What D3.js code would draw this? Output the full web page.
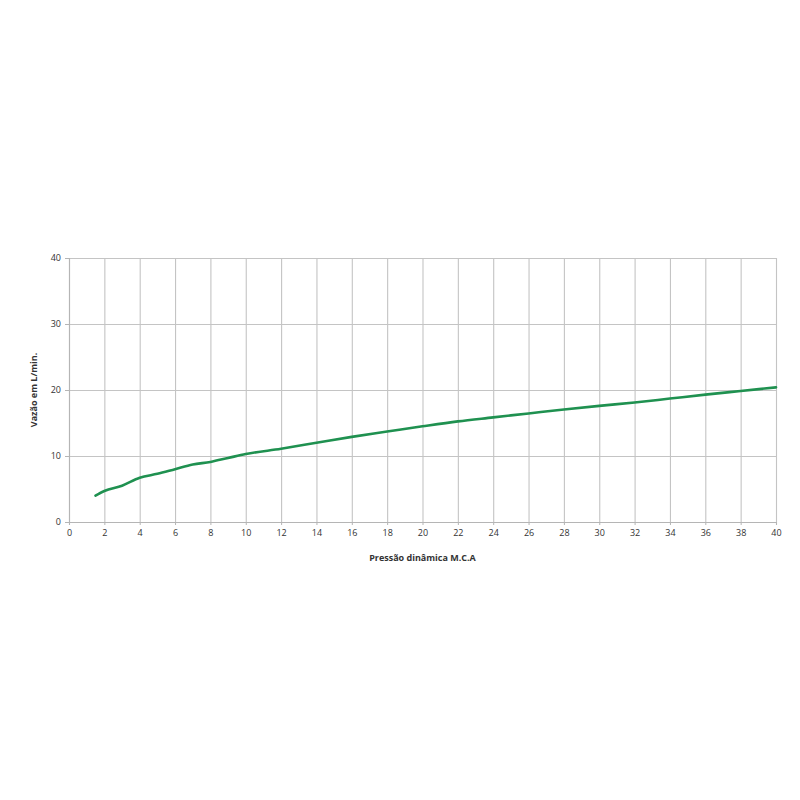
<!DOCTYPE html>
<html>
<head>
<meta charset="utf-8">
<script src="https://cdn.jsdelivr.net/npm/d3@7"></script>
<style>
  body { margin: 0; background: #fff; }
  svg text { font-family: "Open Sans", "DejaVu Sans", sans-serif; fill: #333; }
</style>
</head>
<body>
<div id="chart"></div>
<script>
// Pressure (M.C.A) and flow (L/min)
const pressao = [1.5, 2, 3, 4, 5, 6, 7, 8, 9, 10, 12, 14, 16, 18, 20, 22, 24, 26, 28, 30, 32, 34, 36, 38, 40];
const vazao = [4.0, 4.7, 5.5, 6.7, 7.3, 8.0, 8.7, 9.1, 9.7, 10.3, 11.1, 12.0, 12.9, 13.7, 14.5, 15.25, 15.85, 16.45, 17.05, 17.6, 18.1, 18.7, 19.3, 19.85, 20.4];
const xTicks = d3.range(0, 41, 2);
const yTicks = [0, 10, 20, 30, 40];

const width = 800, height = 800;
const margin = { top: 258, right: 24, bottom: 278, left: 69 };
const innerW = width - margin.left - margin.right;
const innerH = height - margin.top - margin.bottom;

const svg = d3.select('#chart')
  .append('svg')
  .attr('width', width)
  .attr('height', height);

const g = svg.append('g')
  .attr('transform', `translate(${margin.left}, ${margin.top})`);

const x = d3.scaleLinear().domain([0, 40]).range([0, innerW]);
const y = d3.scaleLinear().domain([0, 40]).range([innerH, 0]);

// grid lines
g.append('g')
  .attr('class', 'grid grid-x')
  .attr('transform', `translate(0, ${innerH})`)
  .call(d3.axisBottom(x).tickValues(xTicks).tickSize(-innerH).tickFormat(''))
  .call(a => a.select('.domain').remove())
  .selectAll('line')
  .attr('stroke', '#c4c4c4')
  .attr('stroke-width', 1.1);

g.append('g')
  .attr('class', 'grid grid-y')
  .call(d3.axisLeft(y).tickValues(yTicks).tickSize(-innerW).tickFormat(''))
  .call(a => a.select('.domain').remove())
  .selectAll('line')
  .attr('stroke', '#c4c4c4')
  .attr('stroke-width', 1.1);

// axes
const xAxis = g.append('g')
  .attr('transform', `translate(0, ${innerH})`)
  .call(d3.axisBottom(x).tickValues(xTicks).tickSize(3).tickPadding(5));

const yAxis = g.append('g')
  .call(d3.axisLeft(y).tickValues(yTicks).tickSize(4).tickPadding(4));

[xAxis, yAxis].forEach(a => {
  a.select('.domain').attr('stroke', '#b5b5b5').attr('stroke-width', 1.1);
  a.selectAll('.tick line').attr('stroke', '#b5b5b5');
  a.selectAll('text')
    .style('font-family', '"Open Sans", sans-serif')
    .style('font-size', '9px')
    .style('fill', '#333');
});

// line
const line = d3.line()
  .x((d, i) => x(pressao[i]))
  .y(d => y(d))
  .curve(d3.curveMonotoneX);

g.append('path')
  .datum(vazao)
  .attr('fill', 'none')
  .attr('stroke', '#1f9150')
  .attr('stroke-width', 2.6)
  .attr('stroke-linecap', 'round')
  .attr('stroke-linejoin', 'round')
  .attr('d', line);

// axis titles
g.append('text')
  .attr('x', innerW / 2)
  .attr('y', innerH + 39)
  .attr('text-anchor', 'middle')
  .style('font-size', '9px')
  .style('font-weight', 'bold')
  .text('Pressão dinâmica M.C.A');

g.append('text')
  .attr('transform', `translate(-32, ${innerH / 2}) rotate(-90)`)
  .attr('text-anchor', 'middle')
  .style('font-size', '9px')
  .style('font-weight', 'bold')
  .text('Vazão em L/min.');
</script>
</body>
</html>
